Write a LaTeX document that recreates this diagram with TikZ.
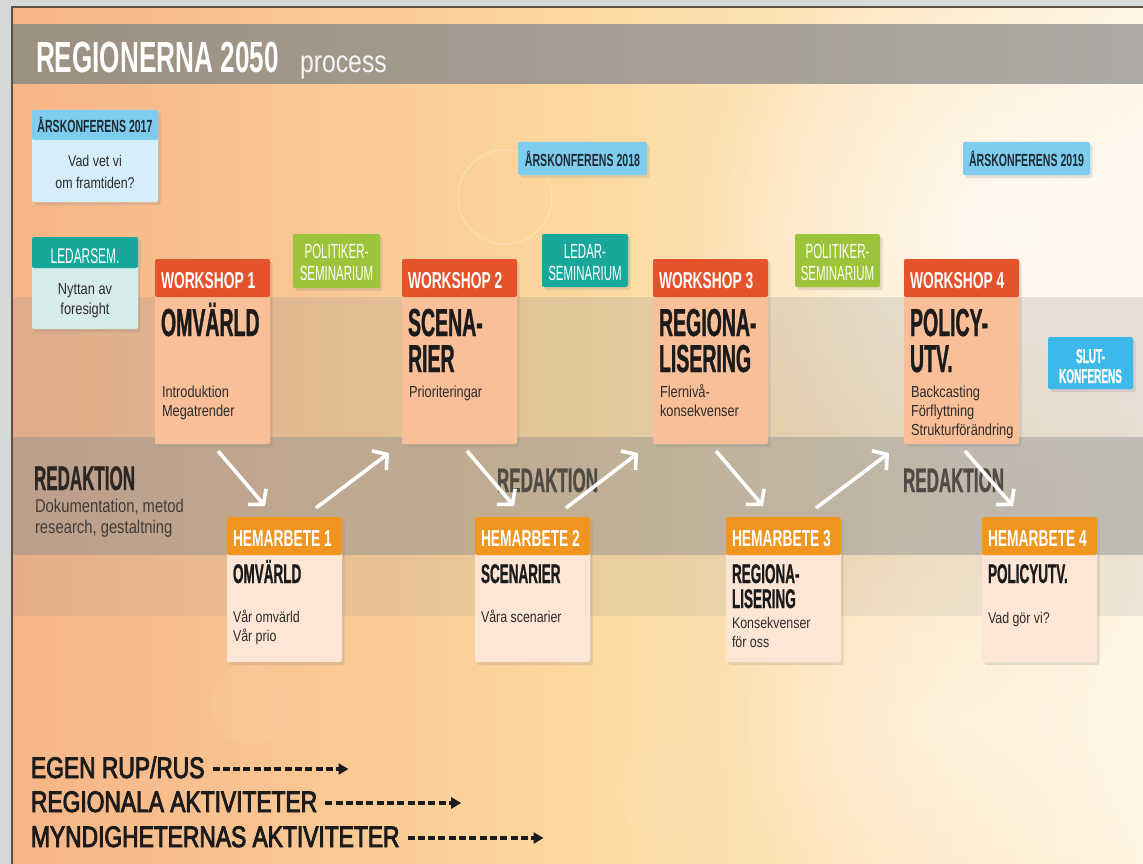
\documentclass[tikz,border=0pt]{standalone}
\usepackage{fontspec}
\setmainfont{Liberation Sans}
\newfontfamily\fB{Liberation Sans}[FakeStretch=0.6]
\newfontfamily\fBB{Liberation Sans}[FakeStretch=0.5, BoldFeatures={FakeBold=0.8}]
\newfontfamily\fL{Liberation Sans}[FakeStretch=0.56]
\newfontfamily\fR{Liberation Sans}[FakeStretch=0.8]
\newfontfamily\fM{Liberation Sans}[FakeStretch=0.77, FakeBold=3]
\usetikzlibrary{arrows.meta,shadows,calc,fadings}
\newcommand\fsz[1]{\fontsize{#1}{#1}\selectfont}
\definecolor{bgL}{HTML}{F6B487}
\definecolor{bgM}{HTML}{FCD89E}
\definecolor{bgR}{HTML}{FFF4E2}
\definecolor{cOuter}{HTML}{D4D8D7}
\definecolor{cFrame}{HTML}{5C4F44}
\definecolor{cBandL}{HTML}{9C9080}
\definecolor{cBandR}{HTML}{ACA9A4}
\definecolor{cAkHead}{HTML}{7FCDEE}
\definecolor{cAkBody}{HTML}{D5EEFA}
\definecolor{cTeal}{HTML}{17A89B}
\definecolor{cTealB}{HTML}{D6ECEA}
\definecolor{cGreen}{HTML}{9CC43B}
\definecolor{cWH}{HTML}{E4532B}
\definecolor{cWB}{HTML}{F8BF98}
\definecolor{cHH}{HTML}{F0951F}
\definecolor{cHB}{HTML}{FDE6D5}
\definecolor{cSlut}{HTML}{3CB9EA}
\definecolor{cInk}{HTML}{1B1B1B}
\definecolor{cBody}{HTML}{2E2B29}
\definecolor{cNavy}{HTML}{1E2A33}
\definecolor{cRed}{HTML}{2B2622}
\definecolor{cRedG}{HTML}{514B46}
\definecolor{cGray}{HTML}{8E8E8E}
\tikzfading[name=glow, inner color=transparent!0, outer color=transparent!100]
\tikzset{
  shad/.style={drop shadow={shadow xshift=2.5pt, shadow yshift=-3pt, opacity=0.2}},
  boxbody/.style={anchor=north west, inner sep=0pt, outer sep=0pt, rounded corners=2pt, shad},
  boxhead/.style={anchor=north west, inner sep=0pt, outer sep=0pt, rounded corners=2pt},
  tx/.style={anchor=base west, inner sep=0pt, outer sep=0pt},
  txc/.style={anchor=base, inner sep=0pt, outer sep=0pt},
  warrow/.style={draw=white, line width=3.6pt, -{Straight Barb[length=10pt,width=24pt]}},
  dasharrow/.style={draw=cInk, line width=3.2pt, dash pattern=on 7pt off 3.3pt, -{Triangle[length=10pt,width=11pt]}},
  headW/.style={tx, font=\fB\bfseries\fsz{23}, text=white},
  bigW/.style={tx, font=\fBB\bfseries\fsz{39}, text=cInk},
  bigH/.style={tx, font=\fBB\bfseries\fsz{27}, text=cInk},
  bodyT/.style={tx, font=\fR\fsz{16}, text=cBody},
  bodyH/.style={tx, font=\fR\fsz{15.5}, text=cBody},
  akT/.style={txc, font=\fB\bfseries\fsz{17.6}, text=cNavy},
  semT/.style={txc, font=\fL\fsz{20.5}, text=white},
  botT/.style={tx, font=\fM\fsz{29.6}, text=cInk},
  redT/.style={tx, font=\fBB\bfseries\fsz{34}},
}
\newcommand\mkbox[8]{%
  \node[boxbody, fill=#8, minimum width=#4pt, minimum height=#5pt] (#1) at (#2,#3) {};
  \node[boxhead, fill=#7, minimum width=#4pt, minimum height=#6pt] (#1h) at (#2,#3) {};
}
\begin{document}
\begin{tikzpicture}[x=1pt,y=-1pt]
\useasboundingbox (0,0) rectangle (1143,864);
% background
\fill[cOuter] (0,0) rectangle (1143,864);
\shade[left color=bgL, right color=bgR, middle color=bgM] (12,7) rectangle (1143,864);
\fill[white, path fading=glow, fill opacity=0.7] (1010,230) ellipse (330 and 280);
\fill[white, path fading=glow, fill opacity=0.35] (960,720) ellipse (260 and 200);
\draw[white, opacity=0.3, line width=1pt] (505,197) circle (47);
\fill[white, opacity=0.05] (250,705) circle (40);
\fill[white, opacity=0.04] (660,790) circle (45);
\fill[white, opacity=0.06] (730,300) circle (50);
% bands
\fill[cGray, opacity=0.22] (12,297) rectangle (1143,437);
\fill[cGray, opacity=0.55] (12,437) rectangle (1143,555);
\fill[cGray, opacity=0.15] (12,555) rectangle (1143,616);
\shade[left color=cBandL, right color=cBandR] (12,25) rectangle (1143,84);
\draw[cFrame, line width=1.2pt] (12,864) -- (12,7) -- (1143,7);
% title
\node[tx, font=\fB\bfseries\fsz{43.6}, text=white] (title) at (36,73) {REGIONERNA 2050};
\node[tx, font=\fR\fsz{31}, text=white!92!gray] (proc) at (300,73) {process};
% redaktion texts
\node[redT, text=cRed] (red1) at (34,490) {REDAKTION};
\node[tx, font=\fR\fsz{18.5}, text=cRedG!80!black] (red1a) at (35,512) {Dokumentation, metod};
\node[tx, font=\fR\fsz{18.5}, text=cRedG!80!black] (red1b) at (35,533) {research, gestaltning};
\node[redT, text=cRedG] (red2) at (497,492) {REDAKTION};
\node[redT, text=cRedG] (red3) at (903,492) {REDAKTION};
% Årskonferens 2017
\mkbox{ak17}{32}{110}{126}{92}{30}{cAkHead}{cAkBody}
\node[akT] (ak17t) at (95,133) {ÅRSKONFERENS 2017};
\node[txc, font=\fR\fsz{15.5}, text=cBody] (ak17a) at (95,167) {Vad vet vi};
\node[txc, font=\fR\fsz{15.5}, text=cBody] (ak17b) at (95,188) {om framtiden?};
% Ledarsem
\mkbox{led}{32}{237}{106}{92}{31}{cTeal}{cTealB}
\node[txc, font=\fL\fsz{21.2}, text=white] (ledt) at (85,263) {LEDARSEM.};
\node[txc, font=\fR\fsz{16}, text=cBody] (leda) at (85,294) {Nyttan av};
\node[txc, font=\fR\fsz{16}, text=cBody] (ledb) at (85,314) {foresight};
% small boxes
\node[boxbody, fill=cGreen, minimum width=87pt, minimum height=54pt] (pol1) at (293,234) {};
\node[semT] (pol1a) at (336.5,258) {POLITIKER-};
\node[semT] (pol1b) at (336.5,280) {SEMINARIUM};
\node[boxbody, fill=cAkHead, minimum width=129pt, minimum height=33pt] (ak18) at (518,142) {};
\node[akT] (ak18t) at (582.5,167) {ÅRSKONFERENS 2018};
\node[boxbody, fill=cAkHead, minimum width=127pt, minimum height=33pt] (ak19) at (963,142) {};
\node[akT] (ak19t) at (1026.5,167) {ÅRSKONFERENS 2019};
\node[boxbody, fill=cTeal, minimum width=86pt, minimum height=53pt] (led2) at (542,234) {};
\node[semT] (led2a) at (585,258) {LEDAR-};
\node[semT] (led2b) at (585,280) {SEMINARIUM};
\node[boxbody, fill=cGreen, minimum width=85pt, minimum height=53pt] (pol2) at (795,234) {};
\node[semT] (pol2a) at (837.5,258) {POLITIKER-};
\node[semT] (pol2b) at (837.5,280) {SEMINARIUM};
\node[boxbody, fill=cSlut, minimum width=85pt, minimum height=52pt] (slut) at (1048,337) {};
\node[txc, font=\fBB\bfseries\fsz{20}, text=white] (sluta) at (1090.5,363) {SLUT-};
\node[txc, font=\fBB\bfseries\fsz{20}, text=white] (slutb) at (1090.5,383) {KONFERENS};
% workshops
\mkbox{w1}{155}{259}{115}{185}{38}{cWH}{cWB}
\node[headW] (w1t) at (161,288) {WORKSHOP 1};
\node[bigW] (w1a) at (161,336) {OMVÄRLD};
\node[bodyT] (w1c) at (162,397) {Introduktion};
\node[bodyT] (w1d) at (162,416) {Megatrender};
\mkbox{w2}{402}{259}{115}{185}{38}{cWH}{cWB}
\node[headW] (w2t) at (408,288) {WORKSHOP 2};
\node[bigW] (w2a) at (408,336) {SCENA-};
\node[bigW] (w2b) at (408,372) {RIER};
\node[bodyT] (w2c) at (409,397) {Prioriteringar};
\mkbox{w3}{653}{259}{115}{185}{38}{cWH}{cWB}
\node[headW] (w3t) at (659,288) {WORKSHOP 3};
\node[bigW] (w3a) at (659,336) {REGIONA-};
\node[bigW] (w3b) at (659,372) {LISERING};
\node[bodyT] (w3c) at (660,397) {Flernivå-};
\node[bodyT] (w3d) at (660,416) {konsekvenser};
\mkbox{w4}{904}{259}{115}{185}{38}{cWH}{cWB}
\node[headW] (w4t) at (910,288) {WORKSHOP 4};
\node[bigW] (w4a) at (910,336) {POLICY-};
\node[bigW] (w4b) at (910,372) {UTV.};
\node[bodyT] (w4c) at (911,397) {Backcasting};
\node[bodyT] (w4d) at (911,416) {Förflyttning};
\node[bodyT] (w4e) at (911,435) {Strukturförändring};
% hemarbete
\mkbox{h1}{227}{517}{115}{145}{38}{cHH}{cHB}
\node[headW] (h1t) at (233,546) {HEMARBETE 1};
\node[bigH] (h1a) at (233,583) {OMVÄRLD};
\node[bodyH] (h1c) at (233,622) {Vår omvärld};
\node[bodyH] (h1d) at (233,641) {Vår prio};
\mkbox{h2}{475}{517}{115}{145}{38}{cHH}{cHB}
\node[headW] (h2t) at (481,546) {HEMARBETE 2};
\node[bigH] (h2a) at (481,583) {SCENARIER};
\node[bodyH] (h2c) at (481,622) {Våra scenarier};
\mkbox{h3}{726}{517}{115}{145}{38}{cHH}{cHB}
\node[headW] (h3t) at (732,546) {HEMARBETE 3};
\node[bigH] (h3a) at (732,583) {REGIONA-};
\node[bigH] (h3b) at (732,608) {LISERING};
\node[bodyH] (h3c) at (732,628) {Konsekvenser};
\node[bodyH] (h3d) at (732,647) {för oss};
\mkbox{h4}{982}{517}{115}{145}{38}{cHH}{cHB}
\node[headW] (h4t) at (988,546) {HEMARBETE 4};
\node[bigH] (h4a) at (988,583) {POLICYUTV.};
\node[bodyH] (h4c) at (988,623) {Vad gör vi?};
% arrows
\draw[warrow] ($(w1.south)+(5.5,7)$) -- ($(h1.north)+(-19.5,-11)$);
\draw[warrow] ($(h1.north)+(31.5,-9)$) -- ($(w2.south)+(-70.5,9)$);
\draw[warrow] ($(w2.south)+(7.5,7)$) -- ($(h2.north)+(-18.5,-11)$);
\draw[warrow] ($(h2.north)+(33.5,-9)$) -- ($(w3.south)+(-72.5,9)$);
\draw[warrow] ($(w3.south)+(5.5,7)$) -- ($(h3.north)+(-20.5,-11)$);
\draw[warrow] ($(h3.north)+(32.5,-9)$) -- ($(w4.south)+(-72.5,9)$);
\draw[warrow] ($(w4.south)+(3.5,7)$) -- ($(h4.north)+(-26.5,-11)$);
% bottom lines
\node[botT] (l1) at (31,778) {EGEN RUP/RUS};
\node[botT] (l2) at (31,812) {REGIONALA AKTIVITETER};
\node[botT] (l3) at (31,847) {MYNDIGHETERNAS AKTIVITETER};
\coordinate (l1s) at ($(l1.base east)+(8,-9)$);
\coordinate (l1e) at ($(l1.base east)+(144,-9)$);
\coordinate (l2s) at ($(l2.base east)+(8,-9)$);
\coordinate (l2e) at ($(l2.base east)+(144,-9)$);
\coordinate (l3s) at ($(l3.base east)+(8,-9)$);
\coordinate (l3e) at ($(l3.base east)+(144,-9)$);
\draw[dasharrow] (l1s) -- (l1e);
\draw[dasharrow] (l2s) -- (l2e);
\draw[dasharrow] (l3s) -- (l3e);
\end{tikzpicture}
\end{document}
